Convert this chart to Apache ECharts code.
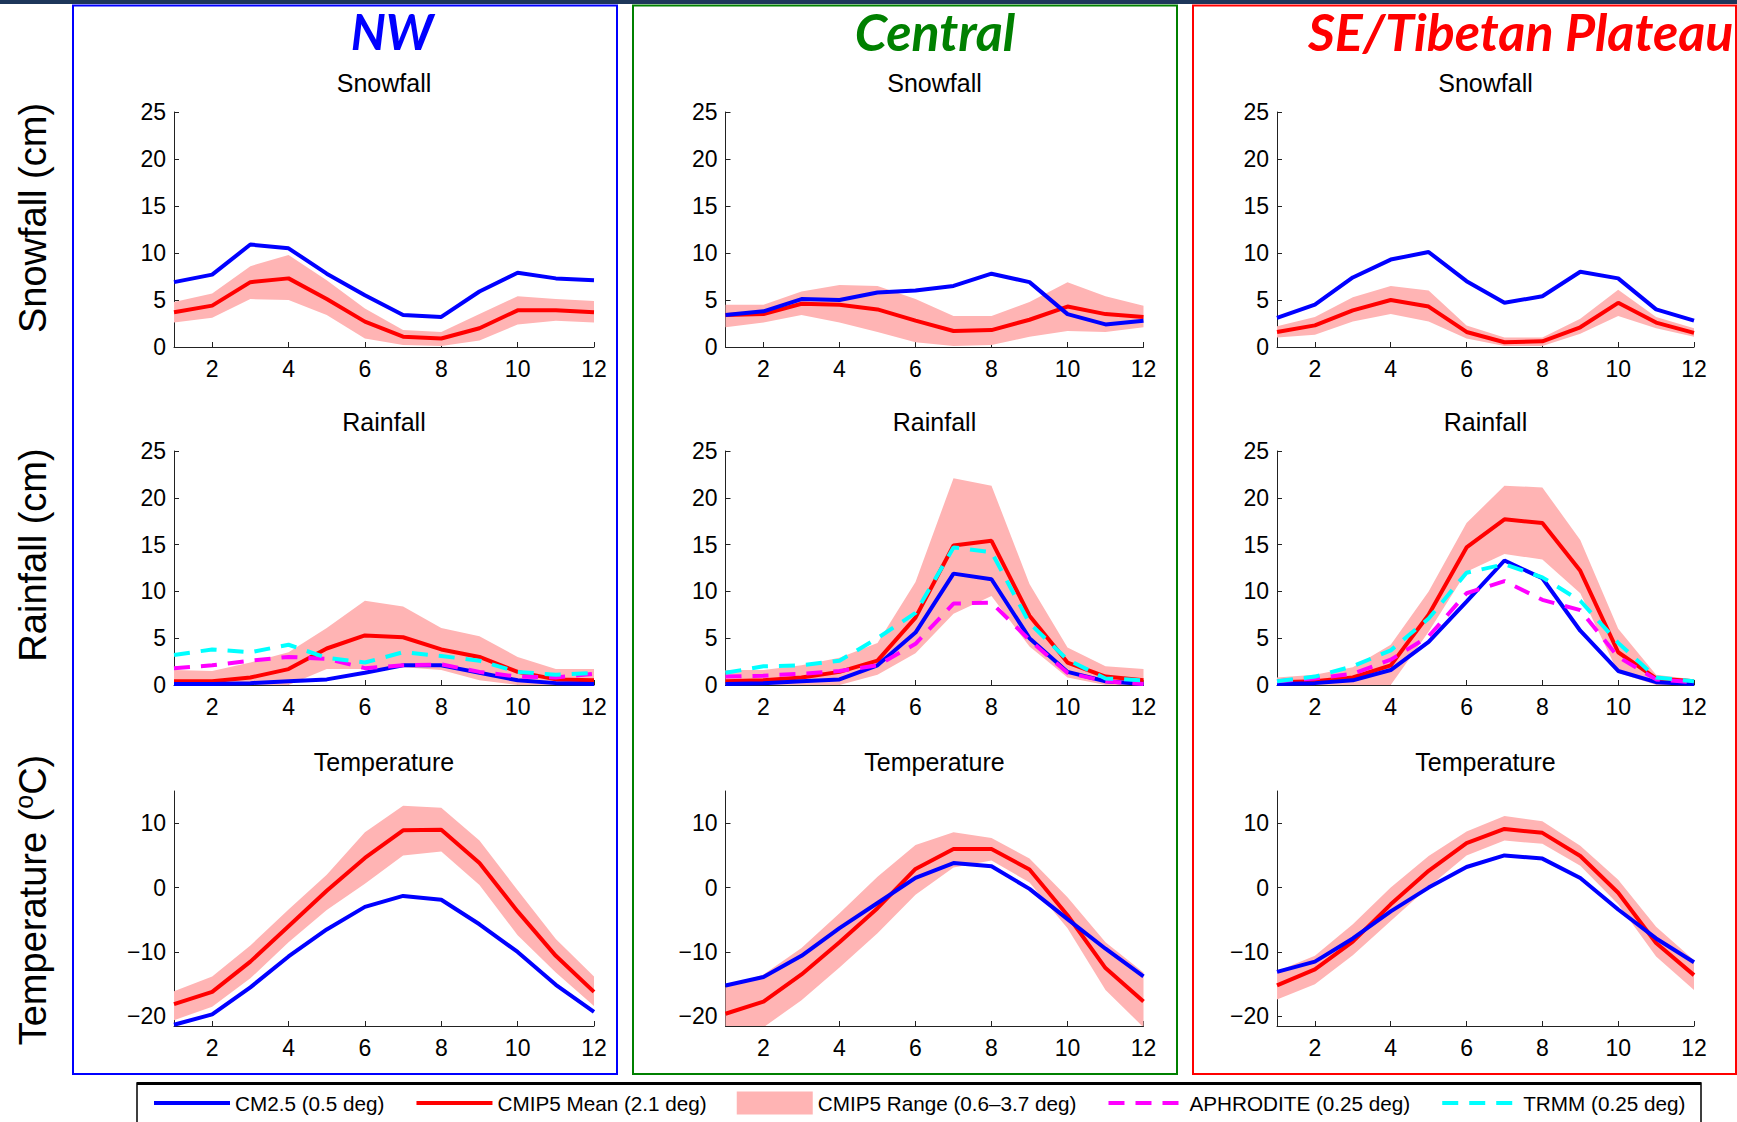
<!DOCTYPE html>
<html>
<head>
<meta charset="utf-8">
<title>Snowfall, rainfall and temperature seasonal cycles</title>
<script src="https://cdn.jsdelivr.net/npm/echarts@6/dist/echarts.min.js"></script>
<style>
  html, body { margin: 0; padding: 0; background: #fff; }
  #chart { width: 1737px; height: 1122px; }
</style>
</head>
<body>
<div id="chart"></div>
<script>
const months = [1, 2, 3, 4, 5, 6, 7, 8, 9, 10, 11, 12];
const monthTicks = [2, 4, 6, 8, 10, 12];
const tempTicks = [-20, -10, 0, 10];

// NW
const nwSnowCM   = [6.9, 7.7, 10.9, 10.5, 7.8, 5.5, 3.4, 3.2, 5.9, 7.9, 7.3, 7.1];
const nwSnowMean = [3.7, 4.4, 6.9, 7.3, 5.1, 2.7, 1.1, 0.9, 2.0, 3.9, 3.9, 3.7];
const nwSnowHi   = [4.8, 5.7, 8.6, 9.8, 7.1, 4.1, 1.8, 1.6, 3.5, 5.4, 5.1, 4.9];
const nwSnowLo   = [2.6, 3.1, 5.1, 5.0, 3.4, 0.9, 0.2, 0.1, 0.7, 2.4, 2.8, 2.6];

const nwRainCM   = [0.1, 0.1, 0.2, 0.4, 0.6, 1.3, 2.1, 2.1, 1.3, 0.5, 0.2, 0.1];
const nwRainMean = [0.4, 0.4, 0.8, 1.7, 3.9, 5.3, 5.1, 3.8, 3.0, 1.4, 0.6, 0.5];
const nwRainHi   = [1.6, 1.5, 2.4, 3.5, 6.1, 9.0, 8.4, 6.1, 5.2, 3.0, 1.7, 1.7];
const nwRainLo   = [0, 0, 0, 0, 1.7, 1.7, 1.9, 1.6, 0.5, 0, 0, 0];
const nwRainAph  = [1.8, 2.1, 2.6, 3.0, 2.8, 1.8, 2.1, 2.2, 1.4, 0.9, 0.8, 1.2];
const nwRainTrmm = [3.2, 3.8, 3.5, 4.3, 2.9, 2.4, 3.5, 3.1, 2.6, 1.4, 1.1, 1.3];

const nwTempCM   = [-21.3, -19.7, -15.5, -10.7, -6.5, -3.0, -1.3, -1.9, -5.7, -10.0, -15.1, -19.3];
const nwTempMean = [-18.1, -16.2, -11.5, -6.0, -0.5, 4.6, 8.9, 9.0, 3.8, -3.7, -10.6, -16.2];
const nwTempHi   = [-16.1, -13.8, -9.0, -3.4, 2.0, 8.6, 12.7, 12.4, 7.3, -0.4, -8.0, -13.8];
const nwTempLo   = [-20.6, -18.5, -14.1, -8.5, -3.5, 0.6, 5.0, 5.6, 0.4, -7.4, -13.2, -18.4];

// Central
const ceSnowCM   = [3.4, 3.8, 5.1, 5.0, 5.8, 6.0, 6.5, 7.8, 6.9, 3.5, 2.4, 2.8];
const ceSnowMean = [3.4, 3.5, 4.6, 4.5, 4.0, 2.8, 1.7, 1.8, 2.9, 4.3, 3.5, 3.2];
const ceSnowHi   = [4.5, 4.5, 5.9, 6.6, 6.5, 5.1, 3.3, 3.3, 4.8, 6.9, 5.4, 4.4];
const ceSnowLo   = [2.1, 2.6, 3.4, 2.6, 1.6, 0.5, 0.1, 0.2, 1.1, 1.7, 1.6, 2.1];

const ceRainCM   = [0.1, 0.2, 0.4, 0.6, 2.1, 5.6, 11.9, 11.3, 5.0, 1.4, 0.4, 0.1];
const ceRainMean = [0.4, 0.5, 0.8, 1.4, 2.6, 7.2, 14.9, 15.4, 7.4, 2.4, 0.9, 0.5];
const ceRainHi   = [1.6, 1.6, 2.1, 2.9, 4.5, 11.0, 22.1, 21.3, 10.8, 4.0, 2.0, 1.7];
const ceRainLo   = [0, 0, 0, 0, 1.1, 3.4, 7.6, 9.5, 4.1, 0.8, 0, 0];
const ceRainAph  = [0.9, 1.0, 1.2, 1.5, 2.1, 4.4, 8.7, 8.8, 4.8, 1.3, 0.4, 0.1];
const ceRainTrmm = [1.3, 2.0, 2.1, 2.6, 5.0, 7.7, 14.7, 14.2, 6.6, 2.7, 0.7, 0.5];

const ceTempCM   = [-15.2, -13.9, -10.6, -6.3, -2.4, 1.5, 3.8, 3.3, -0.2, -4.9, -9.5, -13.8];
const ceTempMean = [-19.6, -17.7, -13.5, -8.5, -3.2, 2.9, 6.0, 6.0, 2.8, -4.3, -12.5, -17.7];
const ceTempHi   = [-15.5, -13.5, -9.4, -4.0, 1.7, 6.6, 8.6, 7.7, 4.5, -1.5, -8.5, -13.2];
const ceTempLo   = [-22.5, -21.7, -17.5, -12.4, -7.1, -1.1, 3.1, 4.2, 0.8, -6.3, -15.9, -21.7];

// SE / Tibetan Plateau
const seSnowCM   = [3.1, 4.5, 7.4, 9.3, 10.1, 7.0, 4.7, 5.4, 8.0, 7.3, 4.0, 2.8];
const seSnowMean = [1.6, 2.3, 3.9, 5.0, 4.3, 1.6, 0.5, 0.6, 2.1, 4.7, 2.6, 1.5];
const seSnowHi   = [2.2, 3.2, 5.3, 6.5, 6.0, 2.3, 1.0, 1.0, 3.0, 6.1, 3.2, 2.0];
const seSnowLo   = [1.0, 1.3, 2.7, 3.5, 2.7, 0.9, 0.1, 0.1, 1.4, 3.3, 2.0, 1.1];

const seRainCM   = [0.1, 0.2, 0.5, 1.6, 4.6, 8.9, 13.3, 11.4, 5.8, 1.5, 0.3, 0.1];
const seRainMean = [0.3, 0.4, 0.8, 2.1, 7.5, 14.7, 17.7, 17.3, 12.2, 3.5, 0.7, 0.4];
const seRainHi   = [0.8, 1.1, 1.9, 4.3, 10.0, 17.3, 21.3, 21.1, 15.5, 6.0, 1.1, 0.6];
const seRainLo   = [0, 0, 0, 0, 5.7, 12.1, 14.0, 13.4, 9.8, 1.3, 0, 0];
const seRainAph  = [0.4, 0.7, 1.2, 2.7, 5.2, 9.8, 11.1, 9.1, 8.0, 3.0, 0.6, 0.3];
const seRainTrmm = [0.4, 0.9, 2.0, 3.7, 7.1, 12.0, 12.9, 11.5, 9.0, 4.5, 0.8, 0.4];

const seTempCM   = [-13.1, -11.5, -7.9, -3.7, 0.0, 3.2, 5.0, 4.5, 1.5, -3.4, -7.9, -11.6];
const seTempMean = [-15.2, -12.7, -8.4, -2.6, 2.6, 6.9, 9.1, 8.5, 4.9, -0.8, -8.6, -13.6];
const seTempHi   = [-13.0, -10.6, -5.7, 0.0, 4.9, 8.7, 11.1, 10.3, 6.5, 1.2, -6.1, -11.3];
const seTempLo   = [-17.4, -15.0, -10.5, -5.2, 0.1, 5.0, 7.3, 6.8, 3.4, -2.6, -10.7, -15.9];

const CM = "CM2.5 (0.5 deg)";
const MEAN = "CMIP5 Mean (2.1 deg)";
const RANGE = "CMIP5 Range (0.6\u20133.7 deg)";
const APH = "APHRODITE (0.25 deg)";
const TRMM = "TRMM (0.25 deg)";

const BLUE = "#0000ff";
const RED = "#ff0000";
const PINK = "#ffb4b4";
const MAGENTA = "#ff00ff";
const CYAN = "#00ffff";
const FONT = "'Liberation Sans', Arial, sans-serif";

const colLeft = [174, 725.5, 1277];
const colWidth = [420, 418, 417];
const rowTop = [112, 451, 791];
const rowHeight = [235, 234, 235];
const rowTitles = ["Snowfall", "Rainfall", "Temperature"];

const panels = [
  { col: 0, row: 0, cm: nwSnowCM, mean: nwSnowMean, lo: nwSnowLo, hi: nwSnowHi },
  { col: 0, row: 1, cm: nwRainCM, mean: nwRainMean, lo: nwRainLo, hi: nwRainHi, aph: nwRainAph, trmm: nwRainTrmm },
  { col: 0, row: 2, cm: nwTempCM, mean: nwTempMean, lo: nwTempLo, hi: nwTempHi },
  { col: 1, row: 0, cm: ceSnowCM, mean: ceSnowMean, lo: ceSnowLo, hi: ceSnowHi },
  { col: 1, row: 1, cm: ceRainCM, mean: ceRainMean, lo: ceRainLo, hi: ceRainHi, aph: ceRainAph, trmm: ceRainTrmm },
  { col: 1, row: 2, cm: ceTempCM, mean: ceTempMean, lo: ceTempLo, hi: ceTempHi },
  { col: 2, row: 0, cm: seSnowCM, mean: seSnowMean, lo: seSnowLo, hi: seSnowHi },
  { col: 2, row: 1, cm: seRainCM, mean: seRainMean, lo: seRainLo, hi: seRainHi, aph: seRainAph, trmm: seRainTrmm },
  { col: 2, row: 2, cm: seTempCM, mean: seTempMean, lo: seTempLo, hi: seTempHi },
];

function pairs(vals) {
  return months.map((m, i) => [m, vals[i]]);
}

function bandRenderer(lo, hi) {
  return function (params, api) {
    if (params.dataIndex !== 0) return null;
    const pts = [];
    for (let i = 0; i < months.length; i++) pts.push(api.coord([months[i], hi[i]]));
    for (let i = months.length - 1; i >= 0; i--) pts.push(api.coord([months[i], lo[i]]));
    return { type: "polygon", shape: { points: pts }, style: { fill: PINK, stroke: null } };
  };
}

const axisLineStyle = { color: "#222", width: 1 };
const labelStyle = { color: "#000", fontSize: 23, fontFamily: FONT };

const grid = [], xAxis = [], yAxis = [], series = [], graphic = [];

panels.forEach((p, g) => {
  grid.push({ left: colLeft[p.col], top: rowTop[p.row], width: colWidth[p.col], height: rowHeight[p.row] });

  xAxis.push({
    gridIndex: g, type: "value", min: 1, max: 12,
    axisLine: { show: true, onZero: false, lineStyle: axisLineStyle },
    axisTick: { show: true, inside: true, length: 5, customValues: monthTicks, lineStyle: axisLineStyle },
    axisLabel: Object.assign({ customValues: monthTicks, margin: 10 }, labelStyle),
    splitLine: { show: false },
  });

  if (p.row === 2) {
    yAxis.push({
      gridIndex: g, type: "value", min: -21.5, max: 15,
      axisLine: { show: true, onZero: false, lineStyle: axisLineStyle },
      axisTick: { show: true, inside: true, length: 5, customValues: tempTicks, lineStyle: axisLineStyle },
      axisLabel: Object.assign({
        customValues: tempTicks, margin: 8,
        formatter: (v) => String(v).replace("-", "\u2212"),
      }, labelStyle),
      splitLine: { show: false },
    });
  } else {
    yAxis.push({
      gridIndex: g, type: "value", min: 0, max: 25, interval: 5,
      axisLine: { show: true, onZero: false, lineStyle: axisLineStyle },
      axisTick: { show: true, inside: true, length: 5, lineStyle: axisLineStyle },
      axisLabel: Object.assign({ margin: 8 }, labelStyle),
      splitLine: { show: false },
    });
  }

  series.push({
    name: RANGE, type: "custom", xAxisIndex: g, yAxisIndex: g, clip: true, z: 1,
    itemStyle: { color: PINK },
    data: months.map((m, i) => [m, p.lo[i], p.hi[i]]),
    encode: { x: 0, y: [1, 2] },
    renderItem: bandRenderer(p.lo, p.hi),
  });
  series.push({
    name: MEAN, type: "line", xAxisIndex: g, yAxisIndex: g, z: 2,
    symbol: "none", color: RED, lineStyle: { color: RED, width: 4 },
    data: pairs(p.mean),
  });
  series.push({
    name: CM, type: "line", xAxisIndex: g, yAxisIndex: g, z: 3,
    symbol: "none", color: BLUE, lineStyle: { color: BLUE, width: 4 },
    data: pairs(p.cm),
  });
  if (p.aph) {
    series.push({
      name: APH, type: "line", xAxisIndex: g, yAxisIndex: g, z: 4,
      symbol: "none", color: MAGENTA, lineStyle: { color: MAGENTA, width: 4, type: [16, 11] },
      data: pairs(p.aph),
    });
    series.push({
      name: TRMM, type: "line", xAxisIndex: g, yAxisIndex: g, z: 5,
      symbol: "none", color: CYAN, lineStyle: { color: CYAN, width: 4, type: [16, 11] },
      data: pairs(p.trmm),
    });
  }

  // panel title
  graphic.push({
    type: "text", silent: true,
    x: colLeft[p.col] + colWidth[p.col] / 2,
    y: rowTop[p.row] - 29,
    style: { text: rowTitles[p.row], fontSize: 25, fontFamily: FONT, fill: "#000", align: "center", verticalAlign: "middle", textAlign: "center", textVerticalAlign: "middle" },
  });
});

// top band and region frames
graphic.push({ type: "rect", silent: true, shape: { x: 0, y: 0, width: 1737, height: 4 }, style: { fill: "#1d365a" } });
graphic.push({ type: "rect", silent: true, shape: { x: 73, y: 5.5, width: 544, height: 1068.5 }, style: { fill: "none", stroke: BLUE, lineWidth: 2 } });
graphic.push({ type: "rect", silent: true, shape: { x: 633, y: 5.5, width: 544, height: 1068.5 }, style: { fill: "none", stroke: "#008000", lineWidth: 2 } });
graphic.push({ type: "rect", silent: true, shape: { x: 1193, y: 5.5, width: 543, height: 1068.5 }, style: { fill: "none", stroke: RED, lineWidth: 2 } });

// region titles
graphic.push({ type: "text", silent: true, x: 392, y: 31, style: { text: "NW", fontSize: 49, fontWeight: "bold", fontStyle: "italic", fontFamily: "Lato, sans-serif", fill: BLUE, align: "center", verticalAlign: "middle", textAlign: "center", textVerticalAlign: "middle" } });
graphic.push({ type: "text", silent: true, x: 935, y: 31, style: { text: "Central", fontSize: 52, fontWeight: "bold", fontStyle: "italic", fontFamily: "Lato, sans-serif", fill: "#008000", align: "center", verticalAlign: "middle", textAlign: "center", textVerticalAlign: "middle" } });
graphic.push({ type: "text", silent: true, x: 1308, y: 31, style: { text: "SE/Tibetan Plateau", fontSize: 52, fontWeight: "bold", fontStyle: "italic", fontFamily: "Lato, sans-serif", fill: RED, align: "left", verticalAlign: "middle", textAlign: "left", textVerticalAlign: "middle" } });

// row labels
const rowLabelY = [218, 555, 900];
graphic.push({ type: "text", silent: true, x: 33, y: rowLabelY[0], rotation: Math.PI / 2, style: { text: "Snowfall (cm)", fontSize: 38, fontFamily: FONT, fill: "#000", align: "center", verticalAlign: "middle", textAlign: "center", textVerticalAlign: "middle" } });
graphic.push({ type: "text", silent: true, x: 33, y: rowLabelY[1], rotation: Math.PI / 2, style: { text: "Rainfall (cm)", fontSize: 38, fontFamily: FONT, fill: "#000", align: "center", verticalAlign: "middle", textAlign: "center", textVerticalAlign: "middle" } });
graphic.push({
  type: "text", silent: true, x: 33, y: rowLabelY[2], rotation: Math.PI / 2,
  style: {
    text: "{a|Temperature (}{s|o}{a|C)}", fill: "#000", align: "center", verticalAlign: "middle", textAlign: "center", textVerticalAlign: "middle",
    rich: {
      a: { fontSize: 38, fontFamily: FONT, fill: "#000", lineHeight: 44 },
      s: { fontSize: 25, fontFamily: FONT, fill: "#000", verticalAlign: "top", lineHeight: 44 },
    },
  },
});

// legend frame
graphic.push({ type: "rect", silent: true, shape: { x: 137, y: 1083, width: 1564, height: 60 }, style: { fill: "none", stroke: "#000", lineWidth: 1.5 } });
graphic.push({ type: "rect", silent: true, shape: { x: 137, y: 1082, width: 1564, height: 3 }, style: { fill: "#000" } });

const chart = echarts.init(document.getElementById("chart"), null, { renderer: "svg" });
chart.setOption({
  backgroundColor: "#fff",
  animation: false,
  grid: grid,
  xAxis: xAxis,
  yAxis: yAxis,
  series: series,
  legend: {
    left: 152, top: 1091.5, padding: 0,
    itemWidth: 76, itemHeight: 23, itemGap: 30,
    selectedMode: false,
    itemStyle: { opacity: 0 },
    lineStyle: { width: 4 },
    textStyle: { fontSize: 20.7, fontFamily: FONT, color: "#000" },
    data: [CM, MEAN, { name: RANGE, icon: "rect", itemStyle: { opacity: 1 } }, APH, TRMM],
  },
  graphic: graphic,
});
window.addEventListener("resize", function () {
  chart.resize();
});
</script>
</body>
</html>
